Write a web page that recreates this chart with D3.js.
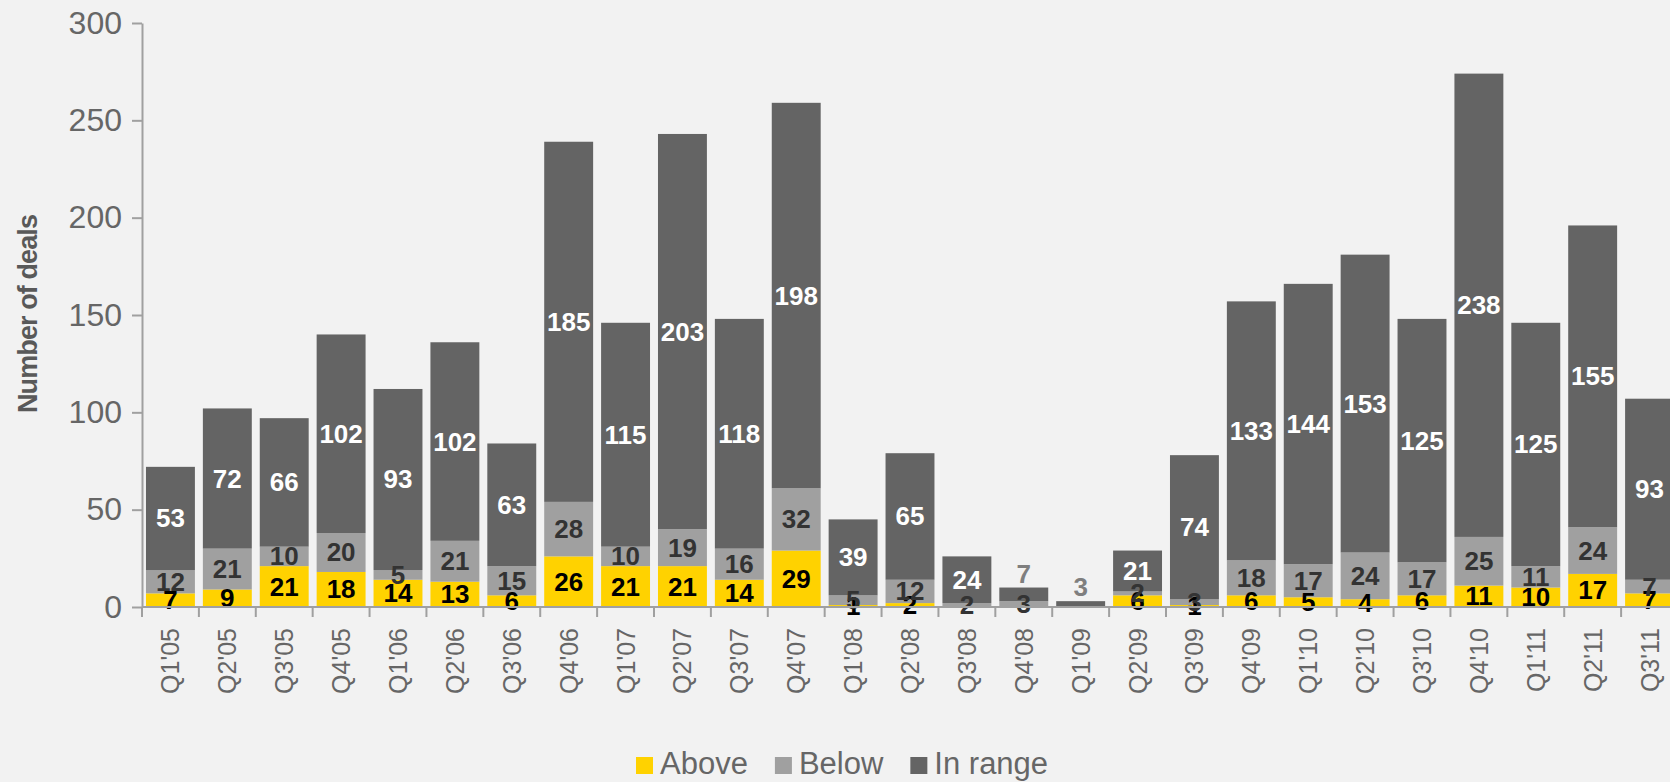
<!DOCTYPE html>
<html><head><meta charset="utf-8">
<script src="https://cdn.jsdelivr.net/npm/d3@7"></script>
<style>
html,body{margin:0;padding:0;background:#f2f2f2;overflow:hidden;}
svg{display:block;font-family:"Liberation Sans",Arial,sans-serif;}
</style></head>
<body>
<svg id="chart" width="1670" height="782"></svg>
<script>
const categories = ["Q1'05","Q2'05","Q3'05","Q4'05","Q1'06","Q2'06","Q3'06","Q4'06","Q1'07","Q2'07","Q3'07","Q4'07","Q1'08","Q2'08","Q3'08","Q4'08","Q1'09","Q2'09","Q3'09","Q4'09","Q1'10","Q2'10","Q3'10","Q4'10","Q1'11","Q2'11","Q3'11"];
const above   = [7,9,21,18,14,13,6,26,21,21,14,29,1,2,0,0,0,6,1,6,5,4,6,11,10,17,7];
const below   = [12,21,10,20,5,21,15,28,10,19,16,32,5,12,2,3,0,2,3,18,17,24,17,25,11,24,7];
const inRange = [53,72,66,102,93,102,63,185,115,203,118,198,39,65,24,7,3,21,74,133,144,153,125,238,125,155,93];
const yTicks = [0,50,100,150,200,250,300];
const seriesNames = ["Above","Below","In range"];
const colors = ["#ffd200","#a0a0a0","#646464"];
const labelColors = ["#000000","#333333","#ffffff"];

const svg = d3.select("#chart");
const x = d3.scaleBand().domain(categories).range([142,1678]).paddingInner(0.14).paddingOuter(0.07);
const y = d3.scaleLinear().domain([0,300]).range([607,23]);

const rows = categories.map((c,i)=>({cat:c, vals:[above[i],below[i],inRange[i]]}));

// y axis
const yAxis = svg.append("g").attr("transform","translate(142,0)")
  .call(d3.axisLeft(y).tickValues(yTicks).tickSize(10).tickPadding(10).tickSizeOuter(0));
yAxis.select(".domain").attr("stroke","#a0a0a0").attr("stroke-width",2);
yAxis.selectAll(".tick line").attr("stroke","#a0a0a0").attr("stroke-width",2);
yAxis.selectAll(".tick text").attr("fill","#666").attr("font-size",32).attr("font-family","Liberation Sans, Arial, sans-serif");

// y title
svg.append("text").attr("transform","translate(28,314) rotate(-90)")
  .attr("text-anchor","middle").attr("dominant-baseline","central")
  .attr("font-size",27).attr("font-weight","bold").attr("fill","#595959")
  .attr("letter-spacing",-0.9)
  .text("Number of deals");

// bars
const g = svg.append("g");
rows.forEach(r=>{
  let acc=0;
  r.vals.forEach((v,k)=>{
    if(v>0){
      g.append("rect").attr("x",x(r.cat)).attr("width",x.bandwidth())
        .attr("y",y(acc+v)).attr("height",y(acc)-y(acc+v)).attr("fill",colors[k]);
    }
    acc+=v;
  });
});

// x axis
svg.append("line").attr("x1",142).attr("x2",1670).attr("y1",y(0)).attr("y2",y(0))
  .attr("stroke","#a0a0a0").attr("stroke-width",2);
d3.range(categories.length+1).forEach(i=>{
  const xx = x.range()[0] + i*x.step();
  svg.append("line").attr("x1",xx).attr("x2",xx).attr("y1",y(0)).attr("y2",y(0)+10)
    .attr("stroke","#a0a0a0").attr("stroke-width",2);
});
categories.forEach(c=>{
  svg.append("text").attr("transform",`translate(${x(c)+x.bandwidth()/2},628) rotate(-90)`)
    .attr("text-anchor","end").attr("dominant-baseline","central")
    .attr("font-size",25).attr("fill","#666").text(c);
});

// labels
rows.forEach(r=>{
  let acc=0;
  const total = d3.sum(r.vals);
  r.vals.forEach((v,k)=>{
    if(v>0){
      let cy = y(acc+v/2), col = labelColors[k];
      if(k===2 && v<10){ cy = y(total)-14; col="#7f7f7f"; }
      g.append("text").attr("x",x(r.cat)+x.bandwidth()/2).attr("y",cy)
        .attr("text-anchor","middle").attr("dominant-baseline","central")
        .attr("font-size",26).attr("font-weight","bold").attr("fill",col).text(v);
    }
    acc+=v;
  });
});

// legend
const lg = svg.append("g");
let lx = 636;
seriesNames.forEach((n,k)=>{
  lg.append("rect").attr("x",lx).attr("y",757).attr("width",17).attr("height",17).attr("fill",colors[k]);
  const t = lg.append("text").attr("x",lx+24).attr("y",774).attr("font-size",31).attr("fill","#666").text(n);
  lx += 24 + t.node().getComputedTextLength() + 27;
});
</script>
</body></html>
